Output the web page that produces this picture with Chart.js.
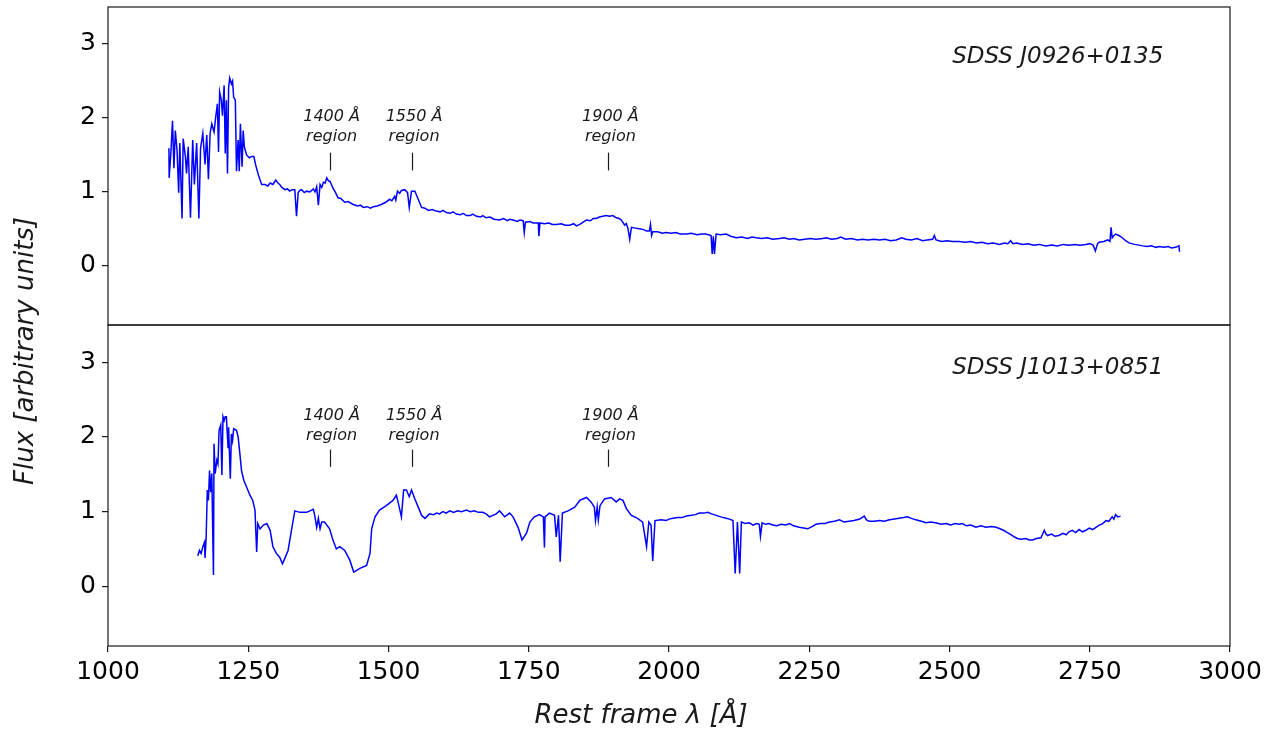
<!DOCTYPE html>
<html>
<head>
<meta charset="utf-8">
<script src="https://cdn.jsdelivr.net/npm/chart.js@4"></script>
<style>
  html, body { margin: 0; padding: 0; background: #fff; }
  #wrap { position: relative; width: 1281px; height: 735px; }
  canvas { position: absolute; left: 0; top: 0; }
</style>
</head>
<body>
<div id="wrap">
  <canvas id="c1" width="1281" height="735"></canvas>
  <canvas id="c2" width="1281" height="735"></canvas>
</div>
<script>
// ---------- data ----------
const xTicks = [1000, 1250, 1500, 1750, 2000, 2250, 2500, 2750, 3000];
const yTicks = [0, 1, 2, 3];
const objectNames = ['SDSS J0926+0135', 'SDSS J1013+0851'];
const regionWaves = [1395, 1542, 1892];
const regionLabels = ['1400 Å', '1550 Å', '1900 Å'];

const waveJ0926 = [
1108.6,1109,1112,1115,1117.5,1120,1123,1126,1128,1132,1134,1138,1140,1143,1147,1151,1154,1158,1162,1165,1169,1173,1176,1179,1182,1185,1189,1192,1195,1197,1199,1202,1204,1207,1209,1211,1213,1215,1217,1220,1222,1224,1227,1229,1232,1234,1236,1239,1241,1243,
1247,1252,1256,1260,1263,1268,1274,1280,1285,1289,1294,1299,1303,1306,1310,1315,1320,1324,1328,1333,1336,1339,1342,1345,1350,1354,1360,1366,1369,1372,1375,1378,1381,1384,1387,1390,1393,1396,1401,1405,1410,1415,1422,1428,1437,1445,1450,1455,1462,1468,1473,1480,1487,1495,1502,1506,1511,1513,1516,1520,1523,1529,1534,1537,1541,1547,1553,1559,
1565,1571,1578,1585,1592,1597,1603,1610,1615,1621,1628,1633,1639,1646,1650,1657,1664,1668,1674,1681,1688,1698,1705,1712,1716,1722,1730,1734,1740,1742,1744,1752,1758,1767,1768,1770,1778,1786,1792,1799,1808,1815,1823,1830,1835,1841,1847,1853,1860,1865,1870,1876,1882,1888,1894,1900,1906,1911,1915,1921,1924,1927,1930,1933,1940,1947,1955,1960,1965,1967,1969,1971,1980,1988,1995,2004,2012,2020,2031,2040,2050,2058,2066,2075,2077,2079,2081,2084,2092,2102,2110,2120,2130,2140,2148,2155,2165,2175,2185,2197,2205,2215,2222,2232,2242,2252,2262,2274,2280,2290,2300,2306,2315,2325,2336,2345,2355,2365,2375,2385,2395,2405,2415,2422,2432,2442,2452,2460,2470,2473,2476,2486,2496,2505,2517,2528,2538,2548,2558,2568,2578,2589,2598,2604,2609,2613,2620,2630,2640,2650,2660,2672,2682,2692,2703,2713,2723,2733,2743,2750,2756,2760,2764,2767,2775,2782,2786,2788,2790,2792,2796,2802,2808,2814,2820,2830,2838,2844,2852,2860,2868,2874,2882,2890,2896,2903,2909,2910];
const fluxJ0926 = [
1.59,1.19,1.52,1.96,1.32,1.83,1.57,0.99,1.66,0.64,1.72,1.47,1.25,1.61,0.65,1.70,1.10,1.66,0.64,1.59,1.79,1.37,1.77,1.17,1.79,1.92,1.81,2.01,2.19,1.54,2.35,2.24,2.03,2.44,1.52,2.24,1.25,2.41,2.54,2.46,2.50,2.28,2.24,1.28,1.70,1.28,1.92,1.34,1.83,1.61,
1.50,1.46,1.48,1.48,1.37,1.23,1.10,1.10,1.08,1.12,1.10,1.16,1.12,1.10,1.06,1.03,1.04,1.01,1.03,1.03,0.67,0.99,1.02,1.03,0.99,1.01,1.00,1.04,1.00,1.07,0.82,1.10,1.06,1.13,1.12,1.19,1.15,1.14,1.05,1.00,0.92,0.91,0.86,0.87,0.83,0.81,0.82,0.79,0.80,0.78,0.80,0.81,0.83,0.86,0.90,0.88,0.94,0.89,1.01,0.98,1.02,1.03,0.99,0.79,1.01,1.01,0.90,0.79,
0.78,0.75,0.76,0.74,0.73,0.75,0.72,0.71,0.73,0.70,0.69,0.71,0.68,0.68,0.70,0.67,0.66,0.68,0.65,0.66,0.63,0.62,0.64,0.61,0.63,0.62,0.60,0.62,0.61,0.45,0.59,0.60,0.58,0.58,0.40,0.58,0.57,0.58,0.56,0.56,0.57,0.55,0.55,0.57,0.54,0.56,0.59,0.62,0.61,0.64,0.64,0.66,0.67,0.68,0.67,0.68,0.65,0.64,0.62,0.55,0.57,0.50,0.36,0.52,0.51,0.50,0.49,0.47,0.47,0.56,0.41,0.46,0.46,0.44,0.45,0.44,0.45,0.43,0.43,0.44,0.42,0.43,0.43,0.41,0.16,0.40,0.16,0.43,0.42,0.43,0.40,0.38,0.39,0.37,0.39,0.38,0.37,0.38,0.36,0.37,0.38,0.36,0.37,0.35,0.36,0.37,0.36,0.37,0.38,0.36,0.37,0.39,0.36,0.37,0.35,0.36,0.35,0.36,0.35,0.36,0.34,0.35,0.38,0.36,0.35,0.37,0.34,0.35,0.36,0.41,0.35,0.33,0.34,0.33,0.33,0.32,0.33,0.31,0.32,0.30,0.31,0.29,0.31,0.30,0.34,0.30,0.31,0.29,0.30,0.28,0.29,0.27,0.28,0.27,0.29,0.28,0.29,0.28,0.29,0.30,0.28,0.20,0.30,0.32,0.33,0.35,0.33,0.52,0.38,0.40,0.43,0.41,0.38,0.34,0.31,0.29,0.28,0.27,0.26,0.27,0.25,0.26,0.25,0.26,0.24,0.25,0.27,0.19];

const waveJ1013 = [
1160,1163,1166,1169,1172,1173,1175,1177,1179,1181,1183,1185,1188,1189,1191,1194,1196,1198,1201,1203,1205,1207,1209,1211,1214,1215,1218,1220,1222,1224,1229,1232,1235,1238,1242,1247,1253,1258,1262,1265,1267,1271,1277,1283,1289,1294,1300,1306,1311,1315,1321,1327,1333,1342,1354,1366,1369,1372,1375,1378,1381,1386,1395,1401,1407,1413,1422,1431,1438,1449,1461,1467,1470,1476,1484,1496,1508,1514,1517,1523,1527,1532,1537,1541,1547,1553,1559,1565,
1573,1580,1586,1591,1597,1603,1609,1616,1623,1630,1639,1646,1653,1660,1668,1674,1680,1692,1698,1707,1716,1722,1731,1738,1746,1752,1760,1769,1776,1778,1779,1787,1796,1799,1803,1806,1810,1820,1832,1841,1853,1861,1867,1869,1872,1874,1877,1885,1897,1906,1912,1918,1924,1933,1944,1953,1960,1964,1968,1971,1975,
1986,1995,2000,2007,2015,2023,2031,2040,2047,2054,2062,2069,2076,2084,2092,2102,2108,2114,2118,2122,2126,2129,
2136,2143,2150,2156,2161,2163,2166,2172,2178,2185,2192,2200,2208,2215,2222,2232,2240,2247,2255,2262,2270,2278,2286,2295,2304,2312,2321,2330,2340,2348,2352,2357,2366,2375,2384,2393,2402,2410,2418,2425,2432,2440,2450,2458,2466,2475,2485,2494,2502,2510,2517,2523,2530,2538,2547,2556,2565,2575,2583,2590,2596,2601,2610,2616,2621,2628,2636,2642,2648,2655,2663,2666,2669,2672,2675,2682,2688,2695,2702,2708,2713,2719,2725,2731,2737,2743,2749,2755,2761,2767,2773,2779,2784,2790,2793,2796,2800,2805];
const fluxJ1013 = [
0.41,0.48,0.44,0.53,0.59,0.38,0.66,1.29,1.15,1.55,1.26,1.51,0.15,1.91,1.51,1.69,1.64,2.09,2.16,1.49,2.27,2.22,2.27,2.27,1.86,2.13,1.44,2.04,1.95,2.11,2.09,2.00,1.78,1.55,1.42,1.33,1.22,1.15,1.02,0.46,0.84,0.77,0.82,0.84,0.75,0.53,0.44,0.39,0.30,0.37,0.48,0.75,1.01,0.99,0.99,1.03,0.93,0.79,0.91,0.77,0.86,0.86,0.77,0.62,0.50,0.53,0.48,0.35,0.19,0.24,0.28,0.44,0.77,0.93,1.02,1.08,1.15,1.22,1.13,0.93,1.29,1.29,1.20,1.29,1.17,1.06,0.95,0.91,
0.97,0.96,0.98,0.97,1.00,0.98,1.01,0.99,1.01,1.00,1.02,1.00,1.01,0.99,0.99,0.97,0.93,0.97,1.01,0.93,0.98,0.93,0.79,0.62,0.71,0.86,0.93,0.96,0.93,0.52,0.93,0.98,0.95,0.66,0.95,0.33,0.98,1.01,1.06,1.15,1.19,1.13,1.06,0.88,1.06,0.89,1.08,1.17,1.19,1.13,1.17,1.15,1.04,0.95,0.91,0.86,0.53,0.86,0.82,0.34,0.88,
0.89,0.88,0.90,0.91,0.92,0.92,0.94,0.95,0.96,0.98,0.98,0.99,0.97,0.95,0.93,0.91,0.90,0.88,0.17,0.86,0.17,0.86,
0.84,0.85,0.82,0.84,0.83,0.67,0.85,0.83,0.84,0.82,0.81,0.83,0.82,0.84,0.81,0.79,0.78,0.77,0.80,0.83,0.84,0.84,0.86,0.87,0.89,0.86,0.87,0.88,0.90,0.94,0.89,0.87,0.87,0.88,0.87,0.89,0.90,0.91,0.92,0.93,0.91,0.89,0.87,0.85,0.86,0.85,0.83,0.84,0.82,0.84,0.83,0.84,0.81,0.82,0.79,0.81,0.79,0.80,0.79,0.77,0.75,0.73,0.69,0.66,0.64,0.63,0.64,0.62,0.62,0.64,0.65,0.70,0.75,0.70,0.68,0.70,0.67,0.68,0.71,0.69,0.73,0.75,0.72,0.76,0.73,0.75,0.78,0.76,0.79,0.82,0.84,0.88,0.87,0.93,0.90,0.96,0.93,0.94];

// ---------- styling ----------
const FONT = '"DejaVu Sans", "Liberation Sans", sans-serif';
const INK = '#1a1a1a';

const decoPlugin = {
  id: 'deco',
  afterDraw(chart, args, o) {
    const { ctx, chartArea: a, scales } = chart;
    const x = scales.x, y = scales.y;
    ctx.save();
    ctx.strokeStyle = INK; ctx.lineWidth = 1.2;
    ctx.strokeRect(a.left, a.top, a.right - a.left, a.bottom - a.top);
    ctx.fillStyle = INK;
    ctx.textAlign = 'center'; ctx.textBaseline = 'middle';
    ctx.font = 'italic 23px ' + FONT;
    ctx.fillText(o.name, x.getPixelForValue(o.nameX), y.getPixelForValue(o.nameY));
    ctx.font = 'italic 16px ' + FONT;
    regionWaves.forEach((w, i) => {
      const px = x.getPixelForValue(w);
      ctx.fillText(regionLabels[i], px + 2, y.getPixelForValue(o.line1Y));
      ctx.fillText('region', px + 2, y.getPixelForValue(o.line2Y));
      ctx.beginPath();
      ctx.lineWidth = 1.2;
      ctx.moveTo(Math.round(px) + 0.5, y.getPixelForValue(o.tickTopY));
      ctx.lineTo(Math.round(px) + 0.5, y.getPixelForValue(o.tickBotY));
      ctx.stroke();
    });
    if (o.axisLabels) {
      ctx.font = 'italic 26px ' + FONT;
      ctx.fillText('Rest frame λ [Å]', 641, 716);
      ctx.translate(26, 351);
      ctx.rotate(-Math.PI / 2);
      ctx.fillText('Flux [arbitrary units]', 0, 0);
    }
    ctx.restore();
  }
};

function yScale() {
  return {
    type: 'linear', min: -0.8, max: 3.5,
    afterBuildTicks: s => { s.ticks = yTicks.map(v => ({ value: v })); },
    afterFit: s => { s.width = 108; s.paddingTop = 0; s.paddingBottom = 0; },
    ticks: { font: { family: FONT, size: 25 }, color: '#000', padding: 6 },
    grid: { drawOnChartArea: false, drawTicks: true, tickLength: 6, color: INK, lineWidth: 1.2 },
    border: { display: false }
  };
}

function makeChart(id, wave, flux, xVisible, padding, deco) {
  return new Chart(document.getElementById(id), {
    type: 'line',
    data: {
      datasets: [{
        data: wave.map((w, i) => ({ x: w, y: flux[i] })),
        borderColor: '#0000ff', borderWidth: 1.5,
        pointRadius: 0, tension: 0, fill: false
      }]
    },
    options: {
      responsive: false, animation: false,
      layout: { padding },
      plugins: { legend: { display: false }, tooltip: { enabled: false }, deco },
      scales: {
        x: {
          type: 'linear', min: 1000, max: 3000, display: xVisible,
          afterBuildTicks: s => { s.ticks = xTicks.map(v => ({ value: v })); },
          afterFit: s => { if (xVisible) { s.height = 89; s.paddingLeft = 0; s.paddingRight = 0; } },
          ticks: { font: { family: FONT, size: 25 }, color: '#000', padding: 5,
                   maxRotation: 0, callback: v => String(v) },
          grid: { drawOnChartArea: false, drawTicks: true, tickLength: 6, color: INK, lineWidth: 1.2 },
          border: { display: false }
        },
        y: yScale()
      }
    },
    plugins: [decoPlugin]
  });
}

makeChart('c1', waveJ0926, fluxJ0926, false,
  { top: 7, bottom: 410, left: 0, right: 51 },
  { name: objectNames[0], nameX: 2693, nameY: 2.83,
    line1Y: 2.01, line2Y: 1.74, tickTopY: 1.53, tickBotY: 1.29 });

makeChart('c2', waveJ1013, fluxJ1013, true,
  { top: 325, bottom: 0, left: 0, right: 51 },
  { name: objectNames[1], nameX: 2693, nameY: 2.92,
    line1Y: 2.28, line2Y: 2.01, tickTopY: 1.83, tickBotY: 1.60, axisLabels: true });
</script>
</body>
</html>
